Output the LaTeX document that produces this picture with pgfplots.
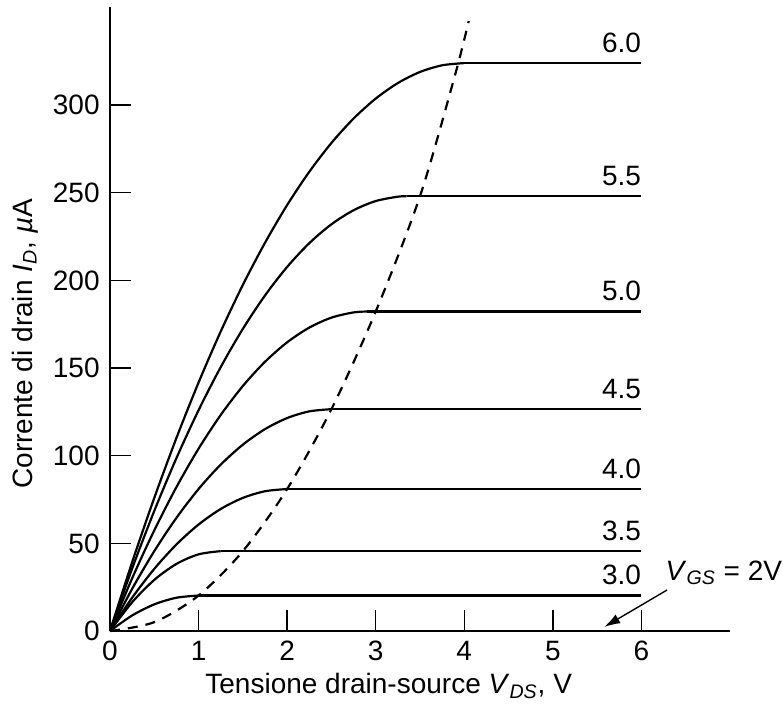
\documentclass[border=0pt]{standalone}
\usepackage{pgfplots}
\pgfplotsset{compat=1.18}
\usetikzlibrary{arrows.meta}
\usepackage{fontspec}
\setmainfont{Liberation Sans}
\begin{document}
\begin{tikzpicture}[font=\fontsize{14}{16}\selectfont]
\begin{axis}[
  scale only axis,
  width=310pt, height=312pt,
  xmin=0, xmax=7, ymin=0, ymax=356,
  axis lines*=left,
  axis line style={line width=1pt},
  xtick={0,1,2,3,4,5,6},
  ytick={0,50,100,150,200,250,300},
  tick align=inside,
  major tick length=10.5pt,
  tick style={line width=0.7pt, black},
  /pgf/number format/assume math mode=true,
  xticklabel style={anchor=north, inner sep=0pt, yshift=-5pt},
  yticklabel style={anchor=east, inner sep=0pt, xshift=-5pt},
  xlabel={Tensione drain-source \textit{V}\textsubscript{\textit{DS}}, V},
  ylabel={Corrente di drain \textit{I}\textsubscript{\textit{D}}, \textit{µ}A},
  xlabel style={at={(rel axis cs:0,0)}, anchor=north west, inner sep=0pt, xshift=47.5pt, yshift=-21pt},
  ylabel style={at={(rel axis cs:0,0.46)}, anchor=center, inner sep=0pt, yshift=42.5pt},
  clip=false,
]
% VGS = 6.0
\addplot[black, line width=1.1pt, smooth] coordinates {
 (0,0) (0.25,39.23) (0.5,75.94) (0.75,110.11) (1,141.75) (1.25,170.86) (1.5,197.44)
 (1.75,221.48) (2,243) (2.25,261.98) (2.5,278.44) (2.75,292.36) (3,303.75)
 (3.25,312.61) (3.5,318.94) (3.75,322.73) (4,324)};
\addplot[black, line width=1.1pt] coordinates {(4,324) (6,324)};
% VGS = 5.5
\addplot[black, line width=1.1pt, smooth] coordinates {
 (0,0) (0.25,35.64) (0.5,68.51) (0.75,98.62) (1,125.96) (1.25,150.55) (1.5,172.37)
 (1.75,191.43) (2,207.72) (2.25,221.26) (2.5,232.03) (2.75,240.04) (3,245.29)
 (3.25,247.78) (3.35,248)};
\addplot[black, line width=1.1pt] coordinates {(3.35,248) (6,248)};
% VGS = 5.0
\addplot[black, line width=1.1pt, smooth] coordinates {
 (0,0) (0.25,30.07) (0.5,57.43) (0.75,82.08) (1,104.02) (1.25,123.25) (1.5,139.78)
 (1.75,153.59) (2,164.7) (2.25,173.09) (2.5,178.78) (2.75,181.76) (2.9,182.25)};
\addplot[black, line width=1.1pt] coordinates {(2.9,182.25) (6,182.25)};
% VGS = 4.5
\addplot[black, line width=1.1pt, smooth] coordinates {
 (0,0) (0.25,24.05) (0.5,45.56) (0.75,64.55) (1,81) (1.25,94.92) (1.5,106.31)
 (1.75,115.17) (2,121.5) (2.25,125.3) (2.5,126.56)};
\addplot[black, line width=1.1pt] coordinates {(2.5,126.56) (6,126.56)};
% VGS = 4.0
\addplot[black, line width=1.1pt, smooth] coordinates {
 (0,0) (0.25,18.98) (0.5,35.44) (0.75,49.36) (1,60.75) (1.25,69.61) (1.5,75.94)
 (1.75,79.73) (2,81)};
\addplot[black, line width=1.1pt] coordinates {(2,81) (6,81)};
% VGS = 3.5
\addplot[black, line width=1.1pt, smooth] coordinates {
 (0,0) (0.25,16.4) (0.5,29.16) (0.75,38.27) (1,43.74) (1.25,45.56)};
\addplot[black, line width=1.1pt] coordinates {(1.25,45.56) (6,45.56)};
% VGS = 3.0
\addplot[black, line width=1.1pt, smooth] coordinates {
 (0,0) (0.25,8.86) (0.5,15.19) (0.75,18.98) (1,20.25)};
\addplot[black, line width=1.1pt] coordinates {(1,20.25) (6,20.25)};
% VGS = 2
\addplot[black, line width=1.1pt] coordinates {(0,0) (6,0)};
% saturation boundary
\addplot[black, line width=1.1pt, dash pattern=on 5pt off 4pt, smooth] coordinates {
 (0,0) (0.5,5.06) (1,20.25) (1.5,45.56) (2,81) (2.5,126.56) (3,182.25)
 (3.5,248.06) (3.9,318) (4.05,348)};
% labels
\node[anchor=south east, inner sep=0pt, yshift=5pt] at (axis cs:6,324) {6.0};
\node[anchor=south east, inner sep=0pt, yshift=5pt] at (axis cs:6,248) {5.5};
\node[anchor=south east, inner sep=0pt, yshift=5pt] at (axis cs:6,182.25) {5.0};
\node[anchor=south east, inner sep=0pt, yshift=5pt] at (axis cs:6,126.56) {4.5};
\node[anchor=south east, inner sep=0pt, yshift=5pt] at (axis cs:6,81) {4.0};
\node[anchor=south east, inner sep=0pt, yshift=5pt] at (axis cs:6,45.56) {3.5};
\node[anchor=south east, inner sep=0pt, yshift=5pt] at (axis cs:6,20.25) {3.0};
\node[anchor=base west, inner sep=0pt] at (axis cs:6.27,29) {\textit{V}\textsubscript{\textit{GS}} = 2V};
\draw[-{Latex[length=8pt,width=5pt]}, line width=0.7pt] (axis cs:6.29,23.4) -- (axis cs:5.58,2.3);
\coordinate (O) at (axis cs:0,0);
\end{axis}
\pgfresetboundingbox
\path (O) ++(-55pt,-36pt) rectangle ++(391.5pt,351.5pt);
\end{tikzpicture}
\end{document}
